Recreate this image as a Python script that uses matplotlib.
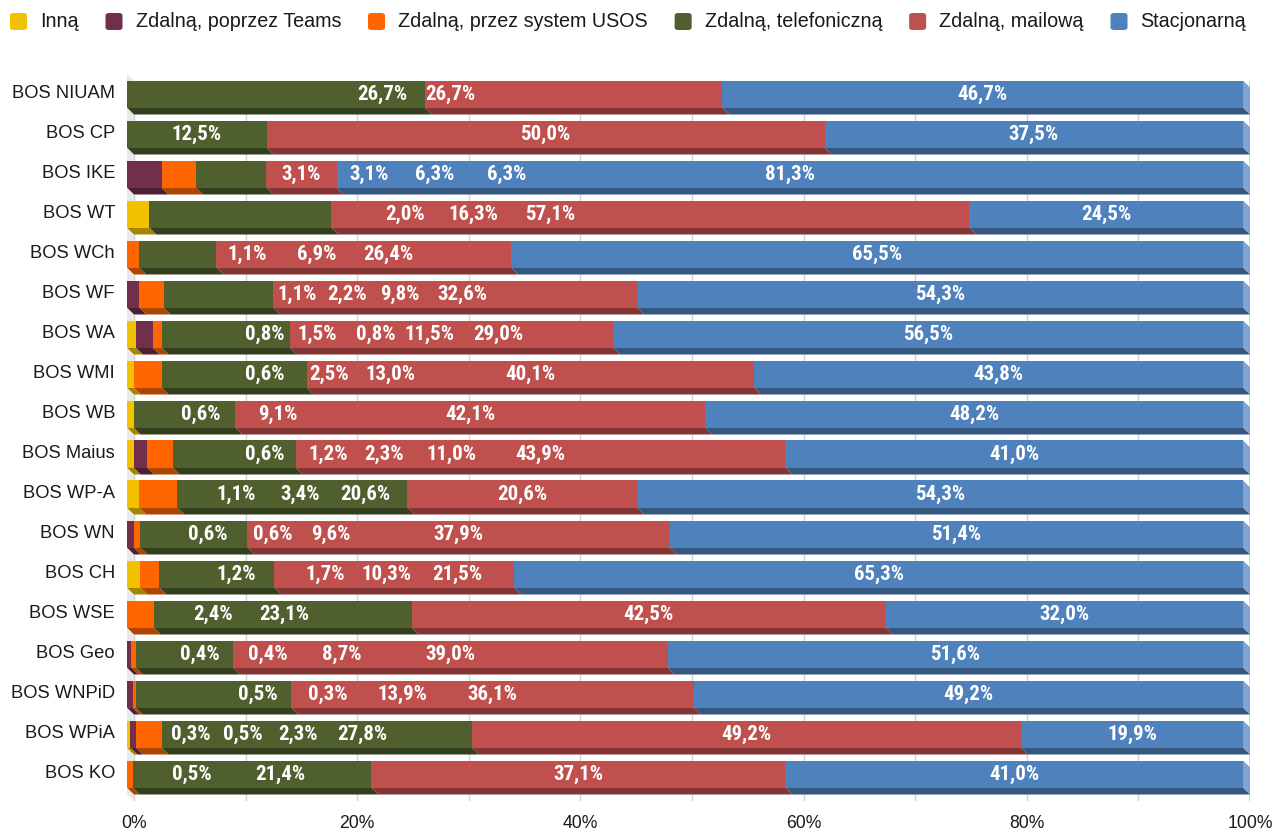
import matplotlib
matplotlib.use("Agg")
import matplotlib.pyplot as plt
from matplotlib.patches import Polygon, FancyBboxPatch
import numpy as np

# ---- data -------------------------------------------------------------
categories = ["BOS NIUAM", "BOS CP", "BOS IKE", "BOS WT", "BOS WCh", "BOS WF",
              "BOS WA", "BOS WMI", "BOS WB", "BOS Maius", "BOS WP-A", "BOS WN",
              "BOS CH", "BOS WSE", "BOS Geo", "BOS WNPiD", "BOS WPiA", "BOS KO"]

series_names = ["Inną", "Zdalną, poprzez Teams", "Zdalną, przez system USOS",
                "Zdalną, telefoniczną", "Zdalną, mailową", "Stacjonarną"]

inna     = [0, 0, 0, 2.0, 0, 0, 0.8, 0.6, 0.6, 0.6, 1.1, 0, 1.2, 0, 0, 0, 0.3, 0]
teams    = [0, 0, 3.1, 0, 0, 1.1, 1.5, 0, 0, 1.2, 0, 0.6, 0, 0, 0.4, 0.5, 0.5, 0]
usos     = [0, 0, 3.1, 0, 1.1, 2.2, 0.8, 2.5, 0, 2.3, 3.4, 0.6, 1.7, 2.4, 0.4, 0.3, 2.3, 0.5]
telefon  = [26.7, 12.5, 6.3, 16.3, 6.9, 9.8, 11.5, 13.0, 9.1, 11.0, 20.6, 9.6, 10.3,
            23.1, 8.7, 13.9, 27.8, 21.4]
mail     = [26.7, 50.0, 6.3, 57.1, 26.4, 32.6, 29.0, 40.1, 42.1, 43.9, 20.6, 37.9, 21.5,
            42.5, 39.0, 36.1, 49.2, 37.1]
stacjonarna = [46.7, 37.5, 81.3, 24.5, 65.5, 54.3, 56.5, 43.8, 48.2, 41.0, 54.3, 51.4,
               65.3, 32.0, 51.6, 49.2, 19.9, 41.0]

tick_values = [0, 20, 40, 60, 80, 100]

# ---- styling ----------------------------------------------------------
front_colors  = ["#F2C200", "#722F4B", "#FF6600", "#4F5F2E", "#C0504D", "#4F81BD"]
bottom_colors = ["#A68500", "#4C1F32", "#AE4600", "#343F1E", "#833533", "#35577F"]
end_colors    = ["#F7D54D", "#9A5A74", "#FF944D", "#7A8A58", "#D47F7C", "#7FA3D2"]

VALUE_FONT = ["Roboto Condensed", "Liberation Sans"]

# label anchors (front-face percent) for labels that sit away from their segment;
# None -> label centred on its segment
label_anchor = [
    [None, None, None, 22.85, 28.94, None],
    [None, None, None, None, None, None],
    [None, 15.59, 21.68, 27.60, 34.05, None],
    [24.91, None, None, 31.00, 37.90, None],
    [None, None, 10.75, 17.03, 23.39, None],
    [None, 15.23, 19.71, 24.46, 30.02, None],
    [12.37, 17.03, 22.31, 27.06, 33.24, None],
    [12.37, None, 18.10, 23.57, None, None],
    [6.63, None, None, 13.53, None, None],
    [12.37, 18.01, 23.03, 29.03, None, None],
    [9.77, None, 15.50, 21.33, None, None],
    [None, 7.26, 13.08, 18.28, None, None],
    [9.77, None, 17.74, 23.21, 29.57, None],
    [None, None, 7.71, 14.07, None, None],
    [None, 6.54, 12.63, 19.27, None, None],
    [None, 11.74, 18.01, 24.64, None, None],
    [5.73, 10.39, 15.32, 21.06, None, None],
    [None, None, 5.82, 13.71, None, None],
]

W, H, DPI = 1275, 834, 100
DEPTH = 7          # 3D depth offset in pixels
BAR_PX = 27        # front face height in pixels

fig = plt.figure(figsize=(W / DPI, H / DPI), dpi=DPI)
fig.patch.set_facecolor("white")

ax_left, ax_right, ax_top, ax_bottom = 134, 1250, 81, 801
ax = fig.add_axes([ax_left / W, 1 - ax_bottom / H, (ax_right - ax_left) / W,
                   (ax_bottom - ax_top) / H])
n = len(categories)
ax.set_xlim(0, 100)
ax.set_ylim(n - 0.5, -0.5)
for s in ax.spines.values():
    s.set_visible(False)

px_x = 100.0 / (ax_right - ax_left)     # data units per pixel (x)
px_y = n / (ax_bottom - ax_top)         # data units per pixel (y)
dx = DEPTH * px_x
dy = DEPTH * px_y
h = BAR_PX * px_y

# back wall grid
ax.set_xticks(tick_values)
ax.set_xticks(np.arange(0, 101, 10), minor=True)
ax.set_xticklabels([f"{v}%" for v in tick_values], fontsize=12.7,
                   family="Liberation Sans", color="#1a1a1a")
ax.tick_params(axis="x", length=0, pad=10, which="both")
ax.set_yticks([])
ax.grid(axis="x", which="both", color="#d4d4d4", lw=1, zorder=0)
ax.axvline(0, color="#8f8f8f", lw=1.2, zorder=1)
ax.axvline(100, color="#c8c8c8", lw=1.2, zorder=1)

# left side wall
wall = Polygon([(-dx, -0.5 - dy), (0, -0.5), (0, n - 0.5), (-dx, n - 0.5 - dy)],
               closed=True, facecolor="#e9e9e9", edgecolor="none", zorder=1,
               clip_on=False)
ax.add_patch(wall)

data = np.array([inna, teams, usos, telefon, mail, stacjonarna], dtype=float)
totals = data.sum(axis=0)
shares = data / totals * 100.0
lefts = np.vstack([np.zeros(n), np.cumsum(shares, axis=0)[:-1]])

ypos = np.arange(n)
yfront = ypos - dy

for k in range(len(series_names)):
    w = shares[k]
    l = lefts[k]
    mask = data[k] > 0
    # front faces
    ax.barh(yfront[mask], w[mask], left=l[mask] - dx, height=h,
            color=front_colors[k], edgecolor="none", zorder=3, clip_on=False)
    # bottom faces
    for i in np.where(mask)[0]:
        x0, x1 = l[i], l[i] + w[i]
        yb = yfront[i] + h / 2
        poly = Polygon([(x0 - dx, yb), (x1 - dx, yb), (x1, yb + dy), (x0, yb + dy)],
                       closed=True, facecolor=bottom_colors[k], edgecolor="none",
                       zorder=2.5, clip_on=False)
        ax.add_patch(poly)

# right end faces of each bar
for i in range(n):
    last = max(k for k in range(len(series_names)) if data[k][i] > 0)
    yt = yfront[i] - h / 2
    yb = yfront[i] + h / 2
    poly = Polygon([(100 - dx, yt), (100, yt + dy), (100, yb + dy), (100 - dx, yb)],
                   closed=True, facecolor=end_colors[last], edgecolor="none",
                   zorder=2.6, clip_on=False)
    ax.add_patch(poly)

# value labels
for i in range(n):
    for k in range(len(series_names)):
        v = data[k][i]
        if v <= 0:
            continue
        anchor = label_anchor[i][k]
        if anchor is None:
            xc = lefts[k][i] + shares[k][i] / 2
        else:
            xc = anchor
        ax.text(xc - dx, yfront[i] + 0.02, f"{v:.1f}".replace(".", ",") + "%",
                ha="center", va="center", color="white", fontsize=15,
                fontweight="bold", family=VALUE_FONT, zorder=5, clip_on=False)

# category labels
for i, name in enumerate(categories):
    ax.annotate(name, xy=(-dx, yfront[i]), xytext=(-12, 0), textcoords="offset pixels",
                ha="right", va="center", fontsize=13.2, family="Liberation Sans",
                color="#1a1a1a", annotation_clip=False)

# legend across the top
renderer = fig.canvas.get_renderer()
x = 10
yc = 21.5
sq = 17
for k, name in enumerate(series_names):
    box = FancyBboxPatch(((x) / W, 1 - (yc + sq / 2) / H), sq / W, sq / H,
                         boxstyle="round,pad=0,rounding_size=0.003",
                         transform=fig.transFigure, facecolor=front_colors[k],
                         edgecolor="none")
    fig.patches.append(box)
    t = fig.text((x + sq + 13) / W, 1 - yc / H, name, ha="left", va="center",
                 fontsize=14.2, family="Liberation Sans", color="#1a1a1a")
    bb = t.get_window_extent(renderer)
    x = x + sq + 13 + bb.width + 27

fig.savefig("out.png", dpi=DPI, facecolor="white")
